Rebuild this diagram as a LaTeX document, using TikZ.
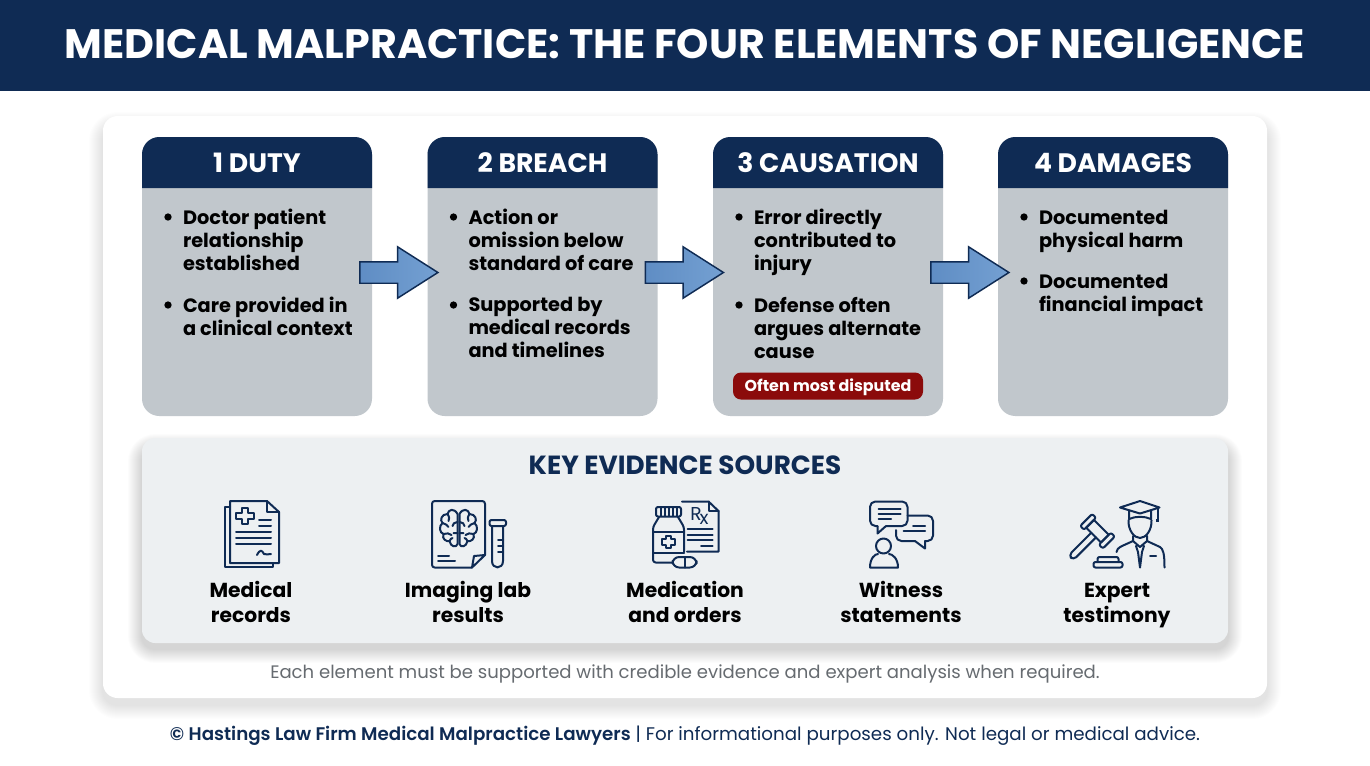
\documentclass[tikz,border=0pt]{standalone}
\usepackage{fontspec}
\setmainfont{Poppins}
\newfontfamily\semi{Poppins SemiBold}
\usetikzlibrary{shapes.arrows}
\definecolor{navy}{HTML}{0F2B54}
\definecolor{cardgrey}{HTML}{C1C7CC}
\definecolor{panelgrey}{HTML}{EDF0F2}
\definecolor{notegrey}{HTML}{666B70}
\definecolor{pillred}{HTML}{8B0B0B}
\definecolor{arrowlight}{HTML}{5F8DC4}
\definecolor{arrowdark}{HTML}{74A0D2}
\begin{document}
\begin{tikzpicture}[x=0.75pt,y=-0.75pt]
        \tikzstyle{every node}=[inner sep=0pt,outer sep=0pt]
        \tikzstyle{card}=[fill=cardgrey,rounded corners=13pt,minimum width=172.5pt,minimum height=209.25pt]
        \tikzstyle{head}=[fill=navy,rounded corners=13pt]
        \tikzstyle{headtext}=[anchor=base,text=white,font=\fontsize{20}{22}\selectfont\bfseries]
        \tikzstyle{bul}=[circle,fill=black,minimum size=5.5pt]
        \tikzstyle{item}=[anchor=north west,align=left,text=black,execute at begin node=\rule{0pt}{12pt},execute at end node={\rule[-4pt]{0pt}{4pt}},font=\fontsize{14.5}{17.25}\selectfont\bfseries]
        \tikzstyle{blockarrow}=[draw=navy,line width=1.1pt,shape=single arrow,single arrow tip angle=65,single arrow head extend=11.25pt,single arrow head indent=0pt,minimum height=58.5pt,minimum width=38.25pt,inner sep=7.5pt,left color=arrowlight,right color=arrowdark]
        \tikzstyle{evlabel}=[anchor=north,align=center,text=black,execute at begin node=\rule{0pt}{12pt},execute at end node={\rule[-4pt]{0pt}{4pt}},font=\fontsize{15.2}{18.75}\selectfont\bfseries]
        \tikzstyle{icon}=[draw=navy,line width=1.5pt,line cap=round,line join=round]

        \useasboundingbox (0,0) rectangle (1370,765);
        \fill[white] (0,0) rectangle (1370,765);

        % title band
        \fill[navy] (0,0) rectangle (1370,91);
        \node[text=white,font=\fontsize{30.85}{32}\selectfont\bfseries] (title) at (685,44) {MEDICAL MALPRACTICE: THE FOUR ELEMENTS OF NEGLIGENCE};

        % white sheet with its shadow
        \foreach \i in {1,...,14}
            \fill[black,opacity=0.007,rounded corners=11pt+0.75pt*\i] (103-\i,116-\i+10) rectangle (1267+\i,698+\i+7);
        \fill[white,rounded corners=11pt] (103,116) rectangle (1267,698);

        % the four cards
        \node[card] (duty) at (257,276.5) {};
        \node[card] (breach) at (542.5,276.5) {};
        \node[card] (cause) at (828,276.5) {};
        \node[card] (damage) at (1113,276.5) {};

        \fill[head] (142,188) -- (142,137) -- (372,137) -- (372,188);
        \fill[head] (427.5,188) -- (427.5,137) -- (657.5,137) -- (657.5,188);
        \fill[head] (713,188) -- (713,137) -- (943,137) -- (943,188);
        \fill[head] (998,188) -- (998,137) -- (1228,137) -- (1228,188);

        \node[headtext] (dutyh) at (257,172) {1 DUTY};
        \node[headtext] (breachh) at (542.5,172) {2 BREACH};
        \node[headtext] (causeh) at (828,172) {3 CAUSATION};
        \node[headtext] (damageh) at (1113,172) {4 DAMAGES};

        \node[bul] (b1) at (168,217) {};
        \node[item] (t1) at (183,209.5) {Doctor patient\\relationship\\established};
        \node[bul] (b2) at (168,305) {};
        \node[item] (t2) at (183,297.5) {Care provided in\\a clinical context};

        \node[bul] (b3) at (453.5,217) {};
        \node[item] (t3) at (468.5,209.5) {Action or\\omission below\\standard of care};
        \node[bul] (b4) at (453.5,305) {};
        \node[item] (t4) at (468.5,297.5) {Supported by\\medical records\\and timelines};

        \node[bul] (b5) at (739,217) {};
        \node[item] (t5) at (754,209.5) {Error directly\\contributed to\\injury};
        \node[bul] (b6) at (739,305) {};
        \node[item] (t6) at (754,297.5) {Defense often\\argues alternate\\cause};

        \node[bul] (b7) at (1024,217) {};
        \node[item] (t7) at (1039,210.5) {Documented\\physical harm};
        \node[bul] (b8) at (1024,281) {};
        \node[item] (t8) at (1039,274.5) {Documented\\financial impact};

        \node[fill=pillred,rounded corners=6pt,minimum width=142.5pt,minimum height=20.25pt,text depth=1pt,text=white,font=\fontsize{11.9}{14}\selectfont\bfseries] (pill) at (828,386) {Often most disputed};

        % arrows between the cards
        \node[blockarrow] (ar1) at (390.5,272.5) {};
        \node[blockarrow] (ar2) at (676,272.5) {};
        \node[blockarrow] (ar3) at (961.5,272.5) {};

        % evidence panel
        \foreach \i in {1,...,14}
            \fill[black,opacity=0.012,rounded corners=10pt+0.75pt*\i] (142-\i,438-\i+10) rectangle (1228+\i,643+\i+6);
        \fill[panelgrey,rounded corners=10pt] (142,438) rectangle (1228,643);
        \node[text=navy,font=\fontsize{19.7}{20}\selectfont\bfseries] (evtitle) at (685,465.5) {KEY EVIDENCE SOURCES};

        \node[evlabel] (ev1) at (251,581) {Medical\\records};
        \node[evlabel] (ev2) at (468,581) {Imaging lab\\results};
        \node[evlabel] (ev3) at (685,581) {Medication\\and orders};
        \node[evlabel] (ev4) at (901,581) {Witness\\statements};
        \node[evlabel] (ev5) at (1117,583) {Expert\\testimony};

        % records icon
        \draw[icon] (230,501) -- (267,501) -- (279,512) -- (279,563) -- (230,563) -- cycle;
        \draw[icon] (267,501) -- (267,512) -- (279,512);
        \draw[icon] (230,507) -- (224.5,507) -- (224.5,567) -- (273,567) -- (273,563);
        \draw[icon] (242,508) -- (248,508) -- (248,513) -- (254,513) -- (254,519) -- (248,519) -- (248,524) -- (242,524) -- (242,519) -- (236,519) -- (236,513) -- (242,513) -- cycle;
        \draw[icon] (259,519.5) -- (271,519.5) (259,525.5) -- (271,525.5)
            (236,532) -- (271,532) (236,538) -- (271,538) (236,544) -- (271,544);
        \draw[icon] (257,555) .. controls (260,549) and (262,550) .. (264,554) .. controls (266,555) and (268,554) .. (271,554);

        % imaging icon
        \draw[icon,rounded corners=2pt] (472,567.5) -- (432,567.5) -- (432,501) -- (485,501) -- (485,555);
        \draw[icon] (485,555) -- (472,567.5) -- (474,556) -- cycle;
        \draw[icon] (438,556) -- (449,556) (438,561) -- (455,561);
        \begin{scope}[shift={(458.5,529)}]
            \foreach \s in {1,-1} {
            \begin{scope}[xscale=\s]
                \draw[icon] (-1,-15) .. controls (-4,-21) and (-10,-20) .. (-11,-15) .. controls (-17,-15) and (-19,-9) .. (-16,-6) .. controls (-20,-3) and (-19,4) .. (-15,5) .. controls (-17,10) and (-12,13) .. (-9,12) .. controls (-8,18) and (-2,19) .. (-1,15) -- cycle;
                \draw[icon] (-11,-15) .. controls (-9,-12) and (-9,-10) .. (-10,-8) (-16,-6) .. controls (-13,-5) and (-11,-4) .. (-10,-2) (-1,-7) .. controls (-4,-7) and (-6,-5) .. (-6,-3) (-15,5) .. controls (-12,4) and (-9,4) .. (-7,6) (-1,4) -- (-5,4) (-9,12) .. controls (-8,10) and (-7,9) .. (-6,9);
            \end{scope}
            }
        \end{scope}
        \draw[icon,rounded corners=1.5pt] (489.5,520) rectangle (506,526);
        \draw[icon] (492,526) -- (492,561) .. controls (492,569.5) and (503,569.5) .. (503,561) -- (503,526);
        \draw[icon] (498,540) -- (503,540) (498,546) -- (503,546) (498,552) -- (503,552);

        % medication icon
        \draw[icon,rounded corners=1.5pt] (656,507) rectangle (681,516.5);
        \draw[icon] (661,508) -- (661,516) (665,508) -- (665,516) (669,508) -- (669,516) (673,508) -- (673,516) (677,508) -- (677,516);
        \draw[icon,rounded corners=2pt] (672,562.5) -- (653,562.5) -- (653,527) -- (659,517);
        \draw[icon,rounded corners=2pt] (678,517) -- (684,527) -- (684,552);
        \draw[icon] (653,531.5) -- (684,531.5) (653,552.5) -- (684,552.5);
        \draw[icon] (665.5,535.5) -- (671,535.5) -- (671,539) -- (675,539) -- (675,544.5) -- (671,544.5) -- (671,548) -- (665.5,548) -- (665.5,544.5) -- (661.5,544.5) -- (661.5,539) -- (665.5,539) -- cycle;
        \draw[icon,rounded corners=5pt] (672.5,557) rectangle (696.5,567.5);
        \draw[icon] (684.5,557) -- (684.5,567.5);
        \draw[icon] (682,501.5) -- (708.5,501.5) -- (718.5,511) -- (718.5,551.5) -- (687,551.5);
        \draw[icon] (708.5,501.5) -- (708.5,511) -- (718.5,511);
        \node[text=navy,font=\fontsize{14}{14}\selectfont] (rx) at (699.5,516) {R\kern-1.5pt\raisebox{-3pt}{x}};
        \draw[icon] (687.5,528.5) -- (712.5,528.5) (687.5,534.5) -- (712.5,534.5) (687.5,540) -- (712.5,540) (701,546) -- (712.5,546);

        % witness icon
        \draw[icon,rounded corners=4pt] (877.5,526) -- (870,526) -- (870,501.5) -- (907.5,501.5) -- (907.5,526) -- (886,526);
        \draw[icon] (877.5,526) -- (877.5,533.5) -- (886,526);
        \draw[icon] (878.5,509) -- (900.5,509) (878.5,514) -- (900.5,514) (878.5,519) -- (891,519);
        \draw[icon,rounded corners=4pt] (907.5,515.5) -- (933,515.5) -- (933,541) -- (925,541);
        \draw[icon] (925,541) -- (925,548.5) -- (915,541);
        \draw[icon,rounded corners=4pt] (915,541) -- (896,541) -- (896,530);
        \draw[icon] (913,525.5) -- (925,525.5) (903.5,530.5) -- (925,530.5);
        \draw[icon] (883.5,546) circle (7.5);
        \draw[icon] (870,567.5) .. controls (870,558) and (875,554) .. (878,554) (889,554) .. controls (892,554) and (898,558) .. (898,567.5) -- (870,567.5);

        % expert icon
        \draw[icon] (1120,507.5) -- (1140,501) -- (1159.5,507.5) -- (1140,513.5) -- cycle;
        \draw[icon] (1157.5,508) -- (1157.5,520);
        \fill[navy] (1155.8,519) rectangle (1159.2,522);
        \draw[icon] (1129,511) -- (1129,519) .. controls (1136,516) and (1144,516) .. (1151,519) -- (1151,511);
        \draw[icon] (1128.5,520) .. controls (1128,530) and (1134,538) .. (1140,538) .. controls (1146,538) and (1152,530) .. (1151.5,520);
        \draw[icon] (1133,536) -- (1133,541) -- (1122,546) .. controls (1118,548) and (1116.5,550) .. (1116.5,552);
        \draw[icon] (1147,536) -- (1147,541) -- (1160,547) .. controls (1163,549) and (1164.5,553) .. (1164.5,567.5);
        \draw[icon] (1133,541) -- (1140,547) -- (1147,541) (1136,546) -- (1138,552) -- (1140,567.5) -- (1142,552) -- (1144,546);
        \draw[icon] (1150,556) -- (1156,556);
        \begin{scope}[shift={(1097.5,531.2)},rotate=225]
            \draw[icon,rounded corners=1.5pt] (-8.5,10.5) rectangle (8.5,16);
            \draw[icon,rounded corners=1.5pt] (-8.5,-16) rectangle (8.5,-10.5);
            \draw[icon] (-5.5,-10.5) rectangle (5.5,10.5);
            \draw[icon,rounded corners=3pt] (5.5,-3.3) -- (37.5,-3.3) -- (37.5,3.3) -- (5.5,3.3);
        \end{scope}
        \draw[icon,rounded corners=1.5pt] (1093.5,567.5) rectangle (1122.5,562);
        \draw[icon,rounded corners=1.5pt] (1097.5,562) -- (1097.5,557) -- (1118.5,557) -- (1118.5,562);

        % closing notes
        \node[text=notegrey,font=\fontsize{13.55}{16}\selectfont] (note) at (685,674) {Each element must be supported with credible evidence and expert analysis when required.};
        \node[text=navy,font=\fontsize{13.7}{16}\selectfont] (foot) at (685,736) {{\semi © Hastings Law Firm Medical Malpractice Lawyers} | For informational purposes only. Not legal or medical advice.};
\end{tikzpicture}
\end{document}
